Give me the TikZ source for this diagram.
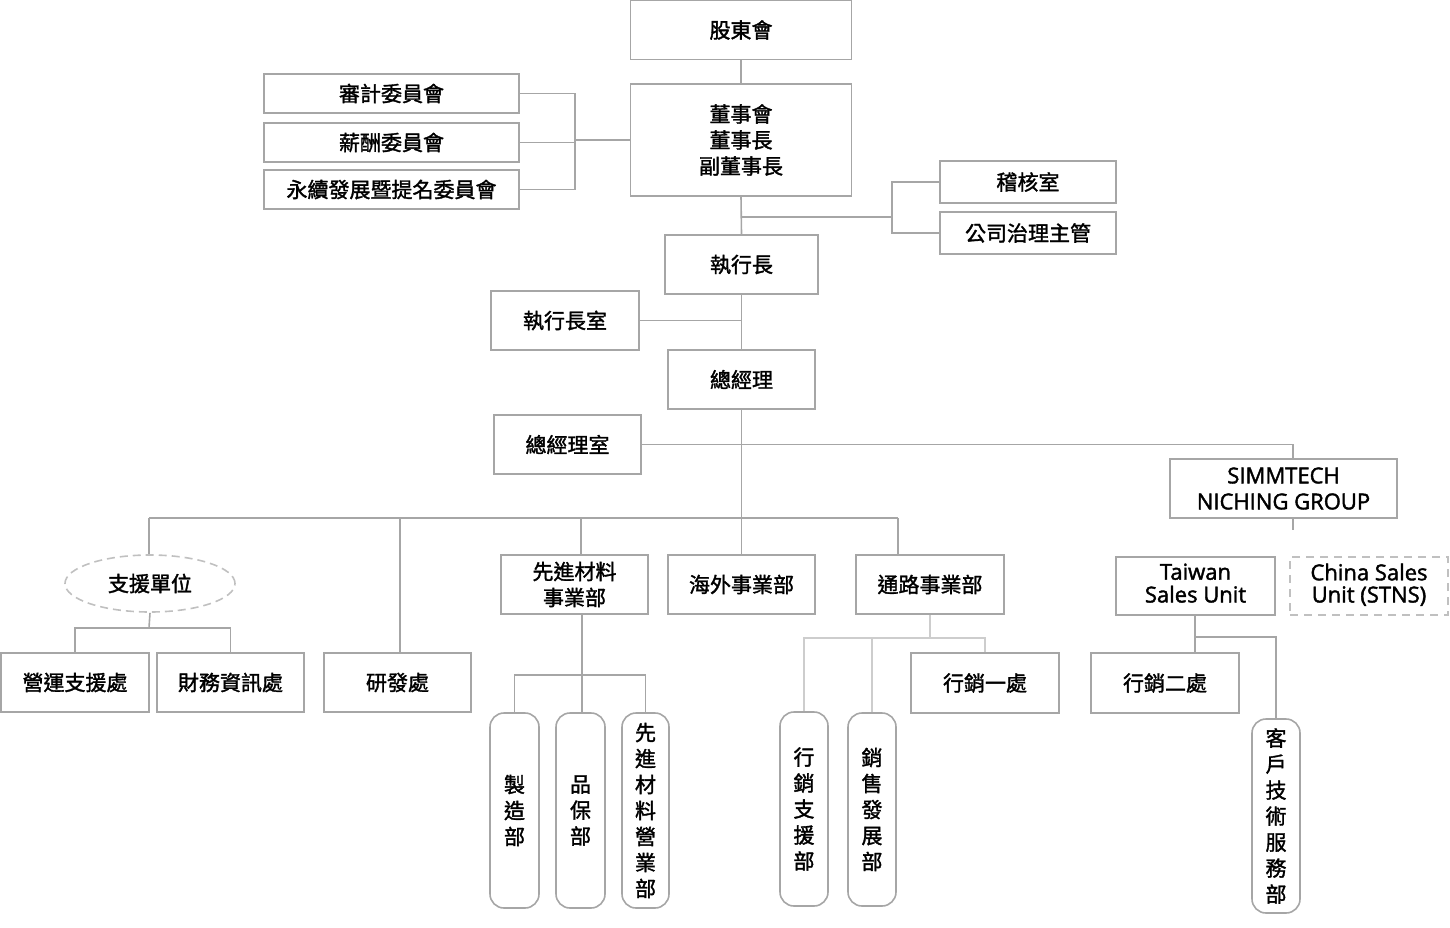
\documentclass[tikz,border=0pt]{standalone}
\usepackage{fontspec}
\setmainfont{Noto Sans CJK TC}[FakeBold=1.6]
\newfontfamily\latinf{Open Sans}[FakeBold=1.8]
\usetikzlibrary{shapes.geometric}
\definecolor{bgray}{RGB}{166,166,166}
\definecolor{dgray}{RGB}{192,192,192}
\definecolor{lgray}{RGB}{205,205,205}
\tikzset{
  box/.style 2 args={draw=bgray, line width=1.6pt, rectangle, inner sep=0pt, align=center,
    minimum width=#1, minimum height=#2, font=\fontsize{21}{26}\selectfont},
  pill/.style 2 args={box={#1}{#2}, rounded corners=14pt},
  latbox/.style 2 args={box={#1}{#2}, font=\latinf\fontsize{22}{20}\selectfont},
  conn/.style={draw=bgray, line width=1.6pt},
  thinconn/.style={draw=lgray, line width=1.1pt},
}
\newcommand{\twolines}[2]{\raisebox{4.5pt}{\begin{tabular}{@{}c@{}}#1\\#2\end{tabular}}}
\begin{document}
\begin{tikzpicture}[x=1pt,y=-1pt]
\useasboundingbox (0,0) rectangle (1450,927);
% nodes
\node[box={221pt}{59pt}] (sh) at (741,30) {股東會};
\node[box={221pt}{112pt}] (board) at (741,140) {董事會\\董事長\\副董事長};
\node[box={255pt}{39pt}] (audit) at (391.5,93.5) {審計委員會};
\node[box={255pt}{39pt}] (pay) at (391.5,142.5) {薪酬委員會};
\node[box={255pt}{39pt}] (nom) at (391.5,189.5) {永續發展暨提名委員會};
\node[box={176pt}{42pt}] (audoff) at (1028,182) {稽核室};
\node[box={176pt}{42pt}] (gov) at (1028,233) {公司治理主管};
\node[box={153pt}{59pt}] (ceo) at (741.5,264.5) {執行長};
\node[box={148pt}{59pt}] (ceooff) at (565,320.5) {執行長室};
\node[box={147pt}{59pt}] (gm) at (741.5,379.5) {總經理};
\node[box={147pt}{59pt}] (gmoff) at (567.5,444.5) {總經理室};
\node[latbox={227pt}{59pt}, font=\latinf\fontsize{22}{26}\selectfont] (sim) at (1283.5,488.5) {SIMMTECH\\NICHING GROUP};
\node[ellipse, draw=dgray, dashed, dash pattern=on 8pt off 5pt, line width=1.6pt, minimum width=170pt, minimum height=57pt, inner sep=0pt, font=\fontsize{21}{26}\selectfont] (sup) at (150,583.5) {支援單位};
\node[box={148pt}{59pt}] (ops) at (75,682.5) {營運支援處};
\node[box={147pt}{59pt}] (fin) at (230.5,682.5) {財務資訊處};
\node[box={147pt}{59pt}] (rd) at (397.5,682.5) {研發處};
\node[box={147pt}{59pt}] (adv) at (574.5,584.5) {先進材料\\事業部};
\node[box={147pt}{59pt}] (ovs) at (741.5,584.5) {海外事業部};
\node[box={148pt}{59pt}] (ch) at (930,584.5) {通路事業部};
\node[pill={49pt}{195pt}] (mfg) at (514.5,810.5) {製\\造\\部};
\node[pill={49pt}{195pt}] (qa) at (580.5,810.5) {品\\保\\部};
\node[pill={47pt}{195pt}] (advs) at (645.5,810.5) {先\\進\\材\\料\\營\\業\\部};
\node[box={148pt}{60pt}] (mk1) at (985,683) {行銷一處};
\node[pill={48pt}{194pt}] (mks) at (804,809) {行\\銷\\支\\援\\部};
\node[pill={48pt}{193pt}] (sd) at (872,809.5) {銷\\售\\發\\展\\部};
\node[latbox={159pt}{58pt}] (tw) at (1195.5,586) {\twolines{Taiwan}{Sales Unit}};
\node[latbox={158pt}{58pt}, draw=dgray, dashed, dash pattern=on 8pt off 6pt] (cn) at (1369,586) {\twolines{China Sales}{Unit (STNS)}};
\node[box={148pt}{60pt}] (mk2) at (1165,683) {行銷二處};
\node[pill={48pt}{194pt}] (cts) at (1276,816) {客\\戶\\技\\術\\服\\務\\部};
% coordinates
\coordinate (cj) at (575,140);
\coordinate (aj) at (741,217);
\coordinate (ak) at (892,217);
\coordinate (sj) at (1293,444.5);
\coordinate (bl) at (149,518);
\coordinate (br) at (898,518);
\coordinate (rdj) at (400,518);
\coordinate (advj) at (581,518);
\coordinate (supj) at (149,628);
\coordinate (advb) at (582,675);
\coordinate (chb) at (930,638);
\coordinate (ss) at (1293,530);
\coordinate (twb) at (1195,637);
% connectors
\draw[conn] (sh.south) -- (board.north);
\draw[conn] (audit.east) -| (cj) |- (nom.east);
\draw[conn] (pay.east) -- (pay.east -| cj);
\draw[conn] (cj) -- (board.west);
\draw[conn] (board.south) -- (ceo.north);
\draw[conn, line width=2.4pt] (aj) -- (ak);
\draw[conn] (audoff.west) -| (ak) |- (gov.west);
\draw[conn] (ceooff.east) -- (ceooff.east -| ceo.south);
\draw[conn] (ceo.south) -- (gm.north);
\draw[conn] (gmoff.east) -- (sj) -- (sj |- sim.north);
\draw[conn] (gm.south) -- (ovs.north);
\draw[conn] (bl) -- (br);
\draw[conn] (bl) -- (bl |- sup.north);
\draw[conn] (rdj) -- (rdj |- rd.north);
\draw[conn] (advj) -- (advj |- adv.north);
\draw[conn] (br) -- (br |- ch.north);
\draw[conn] (sup.south) -- (supj);
\draw[conn] (ops.north) |- (supj) -| (fin.north);
\draw[conn] (advb |- adv.south) -- (advb);
\draw[conn] (mfg.north) |- (advb) -| (advs.north);
\draw[conn] (advb) -- (advb |- qa.north);
\draw[thinconn] (ch.south) -- (chb);
\draw[thinconn] (mks.north) |- (chb) -| (mk1.north);
\draw[thinconn] (sd.north) -- (sd.north |- chb);
\draw[conn] (ss |- sim.south) -- (ss);
\draw[conn] (twb |- tw.south) -- (twb |- mk2.north);
\draw[conn] (twb) -| (cts.north);
\end{tikzpicture}
\end{document}
